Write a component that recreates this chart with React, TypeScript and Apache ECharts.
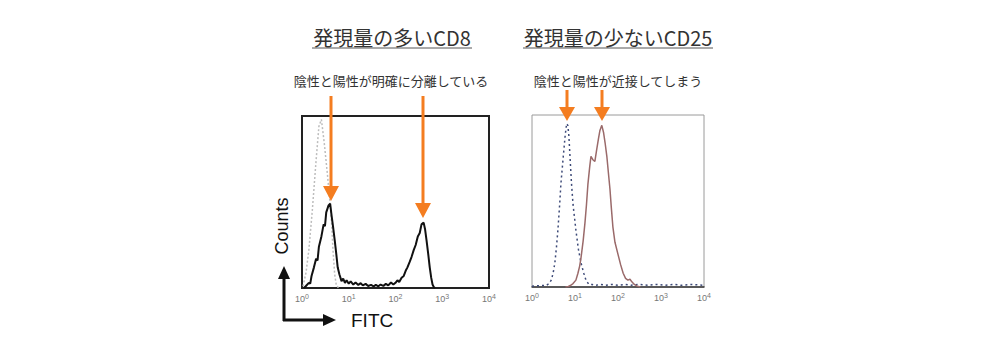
import React, { useEffect, useRef } from "react";
import * as echarts from "echarts";

// Left panel (CD8): [FITC, count]
const cd8Control: [number, number][] = [
  [1.05, 1], [1.22, 9], [1.4, 22], [1.66, 45], [2.0, 74], [2.3, 94], [2.6, 98],
  [3.0, 84], [3.5, 66], [3.9, 52], [4.3, 38], [4.6, 22], [5.0, 8], [5.4, 2], [6, 0],
];
const cd8Stained: [number, number][] = [
  [1.1, 0], [1.2, 1], [1.4, 3], [1.5, 2.5], [1.6, 7], [1.8, 12], [2.0, 17], [2.15, 16], [2.3, 24], [2.6, 30],
  [2.9, 37], [3.1, 36], [3.3, 44], [3.7, 48], [4.0, 49], [4.3, 42], [4.6, 36], [5.0, 28], [5.4, 20],
  [5.8, 12], [6.3, 8], [7, 4], [7.6, 5.5], [8.3, 3], [9, 4.5], [10, 2.5], [11, 3.8], [12.5, 2],
  [14, 3.2], [16, 1.8], [18, 2.8], [20, 1.5], [23, 2.4], [26, 1.2], [30, 1.8], [34, 1], [38, 1.8],
  [43, 1], [48, 2], [55, 1.2], [62, 2.4], [70, 1.5], [80, 3.2], [90, 2], [100, 3],
  [110, 4.5], [120, 3.5], [135, 6], [150, 7], [165, 10], [180, 12], [200, 15], [220, 18],
  [245, 22], [270, 25], [300, 30], [330, 32], [360, 37], [400, 38], [430, 34], [460, 28],
  [500, 20], [540, 12], [580, 6], [620, 2], [660, 0.5], [700, 0],
];

// Right panel (CD25): [FITC, count]
const cd25Control: [number, number][] = [
  [1, 0.5], [1.5, 0.8], [2.1, 0.8], [2.5, 2], [2.8, 4], [3.1, 8], [3.4, 14], [3.7, 23],
  [4.0, 33], [4.4, 48], [4.7, 60], [5.3, 75], [5.9, 88], [6.4, 95], [6.8, 94], [7.2, 88],
  [7.8, 72], [8.3, 60], [9.0, 48], [10.5, 33], [12, 22], [13.8, 14], [16, 8], [18, 4],
  [21, 1.5], [25, 1.5], [30, 1], [40, 1.5], [50, 1], [70, 1.5], [100, 1], [150, 1.5],
  [200, 1], [300, 1.5], [500, 1], [800, 1.5], [1200, 1], [2000, 1.5], [3000, 1], [5000, 1.5],
  [10000, 1],
];
const cd25Stained: [number, number][] = [
  [6, 0], [7, 0.3], [8, 1], [9, 2], [10.5, 4], [11.7, 8], [12.8, 12], [13.8, 17], [15.5, 27],
  [17, 37], [18.5, 48], [20, 60], [22, 70], [23.5, 76], [26, 74], [29, 73], [32, 80], [35, 86],
  [38, 91], [42, 94], [46, 90], [50, 84], [55, 76], [60, 66], [65, 57], [70, 46], [76, 35],
  [85, 26], [100, 19], [115, 13], [132, 8], [150, 5], [170, 4], [190, 4.5], [210, 3],
  [240, 1.5], [280, 0.5], [330, 0],
];

// tick label exponents (labels read "10^n")
const tickExponents: Record<number, string> = { 1: "0", 10: "1", 100: "2", 1000: "3", 10000: "4" };

const titleLeft = "発現量の多いCD8";
const titleRight = "発現量の少ないCD25";
const subLeft = "陰性と陽性が明確に分離している";
const subRight = "陰性と陽性が近接してしまう";

const ORANGE = "#f47d20";
const JP = "'Noto Sans CJK JP', 'Noto Sans', sans-serif";
const SANS = "'Liberation Sans', Arial, sans-serif";

function arrowDown(x: number, top: number, base: number, tip: number, half: number) {
  return [
    { type: "line", z: 100, shape: { x1: x, y1: top, x2: x, y2: base + 1 }, style: { stroke: ORANGE, lineWidth: 3 } },
    { type: "polygon", z: 100, shape: { points: [[x - half, base], [x + half, base], [x, tip]] }, style: { fill: ORANGE } },
  ];
}

export default function App() {
  const ref = useRef<HTMLDivElement>(null);
  useEffect(() => {
    if (!ref.current) return;
    const chart = echarts.init(ref.current, null, { renderer: "svg" });
    const xAxisBase = {
      type: "log" as const,
      logBase: 10,
      min: 1,
      max: 10000,
      splitLine: { show: false },
      axisTick: { show: false },
      minorTick: { show: false },
      axisLabel: {
        color: "#777",
        margin: 5,
        fontFamily: SANS,
        formatter: (v: number) => {
          const e = tickExponents[Math.round(v)];
          return e === undefined ? "" : `{b|10}{s|${e}}`;
        },
        rich: {
          b: { fontSize: 9, color: "#777", fontFamily: SANS },
          s: { fontSize: 7, color: "#777", fontFamily: SANS, padding: [0, 0, 5, 0] },
        },
      },
    };
    chart.setOption({
      animation: false,
      backgroundColor: "#fff",
      grid: [
        { left: 302, top: 116, width: 187, height: 172, show: true, borderColor: "#222", borderWidth: 2, backgroundColor: "transparent" },
        { left: 532, top: 115, width: 172, height: 172, show: true, borderColor: "#9a9a9a", borderWidth: 1, backgroundColor: "transparent" },
      ],
      xAxis: [
        { ...xAxisBase, gridIndex: 0, axisLine: { show: false } },
        { ...xAxisBase, gridIndex: 1, axisLine: { show: true, lineStyle: { color: "#333", width: 1.5 } } },
      ],
      yAxis: [
        { type: "value", gridIndex: 0, min: 0, max: 100, show: false },
        { type: "value", gridIndex: 1, min: 0, max: 100, show: false },
      ],
      series: [
        { type: "line", xAxisIndex: 0, yAxisIndex: 0, data: cd8Control, showSymbol: false, lineStyle: { color: "#bdbdbd", width: 1.5, type: [2, 2] }, z: 2 },
        { type: "line", xAxisIndex: 0, yAxisIndex: 0, data: cd8Stained, showSymbol: false, lineStyle: { color: "#111", width: 2 }, z: 3 },
        { type: "line", xAxisIndex: 1, yAxisIndex: 1, data: cd25Control, showSymbol: false, lineStyle: { color: "#3d4a78", width: 1.5, type: [2, 3] }, z: 2 },
        { type: "line", xAxisIndex: 1, yAxisIndex: 1, data: cd25Stained, showSymbol: false, lineStyle: { color: "#9a6a6a", width: 1.5 }, z: 3 },
      ],
      graphic: [
        { type: "text", x: 392, y: 37, style: { text: titleLeft, font: `20px ${JP}`, fill: "#333", align: "center", verticalAlign: "middle" } },
        { type: "line", shape: { x1: 312, y1: 48, x2: 472, y2: 48 }, style: { stroke: "#555", lineWidth: 1 } },
        { type: "text", x: 618, y: 37, style: { text: titleRight, font: `20px ${JP}`, fill: "#333", align: "center", verticalAlign: "middle" } },
        { type: "line", shape: { x1: 523, y1: 48, x2: 713, y2: 48 }, style: { stroke: "#555", lineWidth: 1 } },
        { type: "text", x: 391, y: 80, style: { text: subLeft, font: `13px ${JP}`, fill: "#333", align: "center", verticalAlign: "middle" } },
        { type: "text", x: 618, y: 80, style: { text: subRight, font: `13px ${JP}`, fill: "#333", align: "center", verticalAlign: "middle" } },
        ...arrowDown(331, 96, 186, 201, 8),
        ...arrowDown(423, 96, 203, 218, 8),
        ...arrowDown(567, 90, 107, 121, 8),
        ...arrowDown(602, 90, 107, 121, 8),
        // Counts / FITC axis arrows
        { type: "line", shape: { x1: 284, y1: 321, x2: 284, y2: 278 }, style: { stroke: "#111", lineWidth: 3 } },
        { type: "polygon", shape: { points: [[278, 279], [290, 279], [284, 266]] }, style: { fill: "#111" } },
        { type: "line", shape: { x1: 283, y1: 320, x2: 324, y2: 320 }, style: { stroke: "#111", lineWidth: 3 } },
        { type: "polygon", shape: { points: [[323, 314], [323, 326], [336, 320]] }, style: { fill: "#111" } },
        { type: "text", x: 282, y: 226, rotation: Math.PI / 2, style: { text: "Counts", font: `18px ${SANS}`, fill: "#111", align: "center", verticalAlign: "middle" } },
        { type: "text", x: 351, y: 320, style: { text: "FITC", font: `19px ${SANS}`, fill: "#111", align: "left", verticalAlign: "middle" } },
      ],
    });
    return () => chart.dispose();
  }, []);
  return <div ref={ref} style={{ position: "fixed", left: 0, top: 0, width: 990, height: 362 }} />;
}
